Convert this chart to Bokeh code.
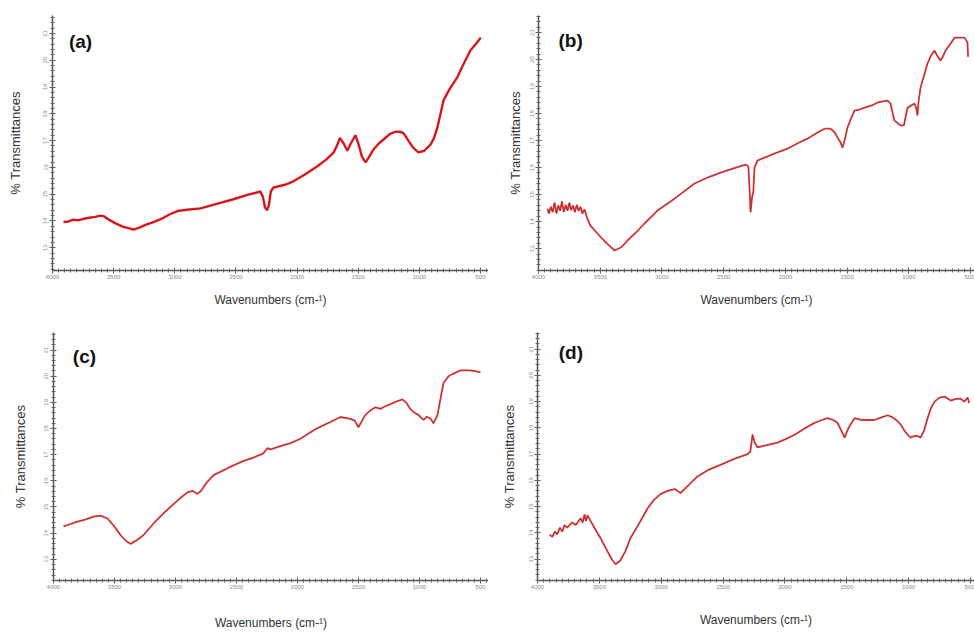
from bokeh.plotting import figure
from bokeh.layouts import column, row
from bokeh.models import Range1d, SingleIntervalTicker, Label, Span
from bokeh.embed import file_html
from bokeh.resources import INLINE

# ---------------- data (wavenumber cm-1, % transmittance) ----------------
a_wn = [3910, 3870, 3830, 3790, 3746, 3700, 3650, 3610, 3583, 3540, 3480, 3420, 3370, 3337,
        3290, 3240, 3174, 3100, 3040, 2978, 2900, 2790, 2650, 2520, 2400, 2300, 2280, 2262,
        2245, 2230, 2215, 2193, 2100, 2030, 1930, 1834, 1760, 1700, 1670, 1650, 1620, 1590,
        1560, 1523, 1500, 1470, 1440, 1410, 1375, 1330, 1293, 1240, 1195, 1160, 1130, 1090,
        1048, 1007, 960, 909, 880, 852, 803, 750, 689, 640, 582, 540, 505, 500]
a_tr = [13.96, 13.98, 14.05, 14.02, 14.08, 14.12, 14.15, 14.20, 14.18, 14.05, 13.90, 13.78,
        13.72, 13.68, 13.75, 13.85, 13.96, 14.10, 14.25, 14.37, 14.42, 14.47, 14.65, 14.81,
        14.98, 15.10, 14.90, 14.50, 14.40, 14.60, 15.10, 15.25, 15.35, 15.48, 15.75, 16.04,
        16.30, 16.56, 16.85, 17.10, 16.90, 16.62, 16.90, 17.20, 16.90, 16.40, 16.19, 16.40,
        16.67, 16.90, 17.04, 17.25, 17.33, 17.33, 17.28, 17.00, 16.72, 16.56, 16.62, 16.85,
        17.10, 17.50, 18.50, 18.95, 19.37, 19.85, 20.37, 20.60, 20.80, 20.85]

b_wn = [3927, 3915, 3900, 3885, 3870, 3855, 3840, 3825, 3810, 3795, 3780, 3765, 3750, 3735,
        3720, 3705, 3690, 3675, 3660, 3645, 3627, 3603, 3580, 3560, 3522,
        3470, 3420, 3384, 3330, 3279, 3210, 3141, 3036, 2898, 2736, 2620, 2525, 2420, 2323,
        2300, 2290, 2282, 2270, 2260, 2250, 2226, 2100, 1983, 1900, 1821, 1750, 1683, 1634,
        1600, 1578, 1555, 1537, 1515, 1497, 1470, 1440, 1400, 1359, 1300, 1253, 1172, 1148,
        1130, 1116, 1067, 1040, 1025, 1010, 954, 940, 930, 920, 905, 849, 820, 792, 765, 743,
        720, 703, 660, 630, 549, 525, 520]
b_tr = [14.48, 14.30, 14.55, 14.35, 14.70, 14.30, 14.60, 14.40, 14.75, 14.35, 14.62, 14.40,
        14.70, 14.42, 14.60, 14.35, 14.62, 14.40, 14.55, 14.30, 14.45, 14.10, 13.85,
        13.75, 13.56, 13.30, 13.08, 12.93, 13.05, 13.30, 13.60, 13.93, 14.41, 14.85, 15.41,
        15.65, 15.81, 15.97, 16.11, 16.05, 15.20, 14.35, 14.90, 15.10, 16.00, 16.26, 16.50,
        16.70, 16.90, 17.07, 17.27, 17.44, 17.44, 17.30, 17.11, 16.95, 16.74, 17.10, 17.48,
        17.80, 18.11, 18.15, 18.22, 18.30, 18.41, 18.48, 18.37, 18.00, 17.74, 17.56, 17.56,
        17.90, 18.22, 18.37, 18.20, 17.93, 18.50, 18.96, 19.85, 20.15, 20.33, 20.10, 19.96,
        20.15, 20.33, 20.60, 20.81, 20.81, 20.63, 20.10]

c_wn = [3918, 3860, 3803, 3740, 3672, 3615, 3557, 3500, 3451, 3410, 3369, 3320, 3262, 3180,
        3100, 3016, 2950, 2902, 2860, 2820, 2790, 2750, 2688, 2600, 2525, 2440, 2361, 2280,
        2246, 2220, 2140, 2057, 1980, 1918, 1860, 1811, 1730, 1648, 1600, 1566, 1530, 1500,
        1470, 1443, 1400, 1361, 1320, 1280, 1238, 1180, 1139, 1110, 1074, 1040, 1008, 985,
        967, 940, 909, 885, 852, 825, 803, 762, 720, 664, 600, 550, 500]
c_tr = [14.26, 14.35, 14.44, 14.52, 14.63, 14.67, 14.56, 14.25, 13.93, 13.72, 13.59, 13.72,
        13.93, 14.37, 14.75, 15.11, 15.38, 15.56, 15.62, 15.50, 15.62, 15.90, 16.22, 16.42,
        16.59, 16.76, 16.89, 17.05, 17.25, 17.20, 17.33, 17.44, 17.60, 17.78, 17.95, 18.07,
        18.25, 18.44, 18.40, 18.37, 18.30, 18.05, 18.30, 18.52, 18.70, 18.81, 18.75, 18.85,
        18.93, 19.05, 19.11, 19.00, 18.74, 18.60, 18.52, 18.40, 18.33, 18.45, 18.37, 18.20,
        18.52, 19.20, 19.74, 20.00, 20.10, 20.22, 20.22, 20.20, 20.15]

d_wn = [3903, 3880, 3860, 3840, 3820, 3800, 3782, 3760, 3720, 3690, 3652, 3635, 3620, 3608,
        3596, 3570, 3539, 3490, 3434, 3400, 3369,
        3330, 3290, 3248, 3180, 3111, 3060, 3006, 2950, 2892, 2844, 2787, 2707, 2620, 2521,
        2420, 2302, 2280, 2262, 2245, 2222, 2140, 2060, 1990, 1922, 1840, 1761, 1700, 1656,
        1610, 1575, 1545, 1518, 1500, 1478, 1437, 1383, 1330, 1276, 1220, 1170, 1130, 1090,
        1060, 1034, 1010, 985, 960, 932, 904, 875, 847, 820, 791, 750, 710, 661, 620, 580,
        550, 524, 510]
d_tr = [13.93, 13.85, 14.05, 13.95, 14.20, 14.05, 14.30, 14.20, 14.40, 14.30, 14.56, 14.40,
        14.70, 14.45, 14.67, 14.45, 14.19, 13.80, 13.30,
        13.00, 12.81, 12.95, 13.30, 13.81, 14.35, 14.93, 15.25, 15.48, 15.60, 15.67, 15.52,
        15.78, 16.15, 16.40, 16.59, 16.80, 17.00, 17.10, 17.74, 17.45, 17.26, 17.35, 17.44,
        17.58, 17.74, 17.98, 18.19, 18.30, 18.37, 18.30, 18.19, 17.90, 17.63, 17.85, 18.07,
        18.37, 18.30, 18.30, 18.30, 18.40, 18.48, 18.40, 18.26, 18.10, 17.89, 17.75, 17.63,
        17.68, 17.70, 17.63, 17.90, 18.37, 18.75, 19.00, 19.15, 19.19, 19.04, 19.10, 19.11,
        19.00, 19.15, 18.95]

panel_tags = ["(a)", "(b)", "(c)", "(d)"]
x_title = "Wavenumbers (cm-\u00b9)"
y_title = "% Transmittances"

FONT = "Liberation Sans"


def make_panel(wn, tr, tag, width, height, borders, xr, yr, tag_pos,
               ylab_standoff, ytick_standoff, xlab_standoff, thick, sep=None):
    left, right, top, bottom = borders
    p = figure(width=width, height=height, output_backend="svg", toolbar_location=None,
               x_range=Range1d(*xr), y_range=Range1d(*yr),
               min_border_left=left, min_border_right=right,
               min_border_top=top, min_border_bottom=bottom)
    p.outline_line_color = None
    p.grid.visible = False
    p.background_fill_color = "white"
    p.border_fill_color = "white"

    p.xaxis.ticker = SingleIntervalTicker(interval=500, num_minor_ticks=10)
    p.yaxis.ticker = SingleIntervalTicker(interval=1, num_minor_ticks=5)
    for ax in (p.xaxis[0], p.yaxis[0]):
        ax.axis_line_color = "#555555"
        ax.axis_line_width = 1.5
        ax.major_tick_line_color = "#555555"
        ax.minor_tick_line_color = "#666666"
        ax.major_tick_in = 3
        ax.major_tick_out = 3
        ax.minor_tick_in = 2
        ax.minor_tick_out = 2
        ax.major_label_text_font = FONT
        ax.major_label_text_font_size = "6px"
        ax.major_label_text_color = "#8a8a8a"
        ax.axis_label_text_font = FONT
        ax.axis_label_text_font_style = "normal"
        ax.axis_label_text_color = "#333333"
    p.xaxis.axis_label_text_font_size = "12px"
    p.yaxis.axis_label_text_font_size = "13px"
    p.xaxis.major_label_standoff = 1
    p.yaxis.major_label_standoff = ytick_standoff
    p.yaxis.major_label_orientation = "vertical"
    p.xaxis.axis_label = x_title
    p.yaxis.axis_label = y_title
    p.xaxis.axis_label_standoff = xlab_standoff
    p.yaxis.axis_label_standoff = ylab_standoff

    if sep is not None:
        # faint panel separator line left of the axis (as in the composed figure)
        p.add_layout(Span(location=sep, dimension="height", line_color="#a8a8a8",
                          line_width=1.5))

    if thick:
        p.line(wn, tr, line_color="#e3191c", line_width=2.4)
        p.line(wn, tr, line_color="#a01515", line_width=0.6, line_alpha=0.6)
    else:
        p.line(wn, tr, line_color="#ee3a3a", line_width=1.8)
        p.line(wn, tr, line_color="#6e2a2a", line_width=0.6, line_alpha=0.7)

    p.add_layout(Label(x=tag_pos[0], y=tag_pos[1], text=tag, text_font=FONT,
                       text_font_style="bold", text_font_size="19px",
                       text_color="#111111", text_align="center",
                       text_baseline="middle"))
    return p


# figure layout: (a) x 0..488, (b) 488..974; top row y 0..312, bottom row 312..632
pa = make_panel(a_wn, a_tr, panel_tags[0], 488, 312, (52, 0, 15, 40),
                (4000, 435), (12.15, 21.67), (3771, 20.7), 18, 2, 11, True)
pb = make_panel(b_wn, b_tr, panel_tags[1], 486, 312, (50, 0, 15, 42),
                (4000, 468), (12.19, 21.63), (3740, 20.7), 5, 1, 11, False, sep=4356)
pc = make_panel(c_wn, c_tr, panel_tags[2], 488, 320, (53, 0, 16, 48),
                (4000, 434), (12.19, 21.67), (3746, 20.74), 14, 2, 24, False)
pd = make_panel(d_wn, d_tr, panel_tags[3], 486, 320, (49, 0, 20, 45),
                (4000, 468), (12.19, 21.63), (3730, 20.85), 10, 1, 21, False, sep=4348)

layout = column(row(pa, pb), row(pc, pd))

open("out.html", "w").write(file_html(layout, INLINE))
